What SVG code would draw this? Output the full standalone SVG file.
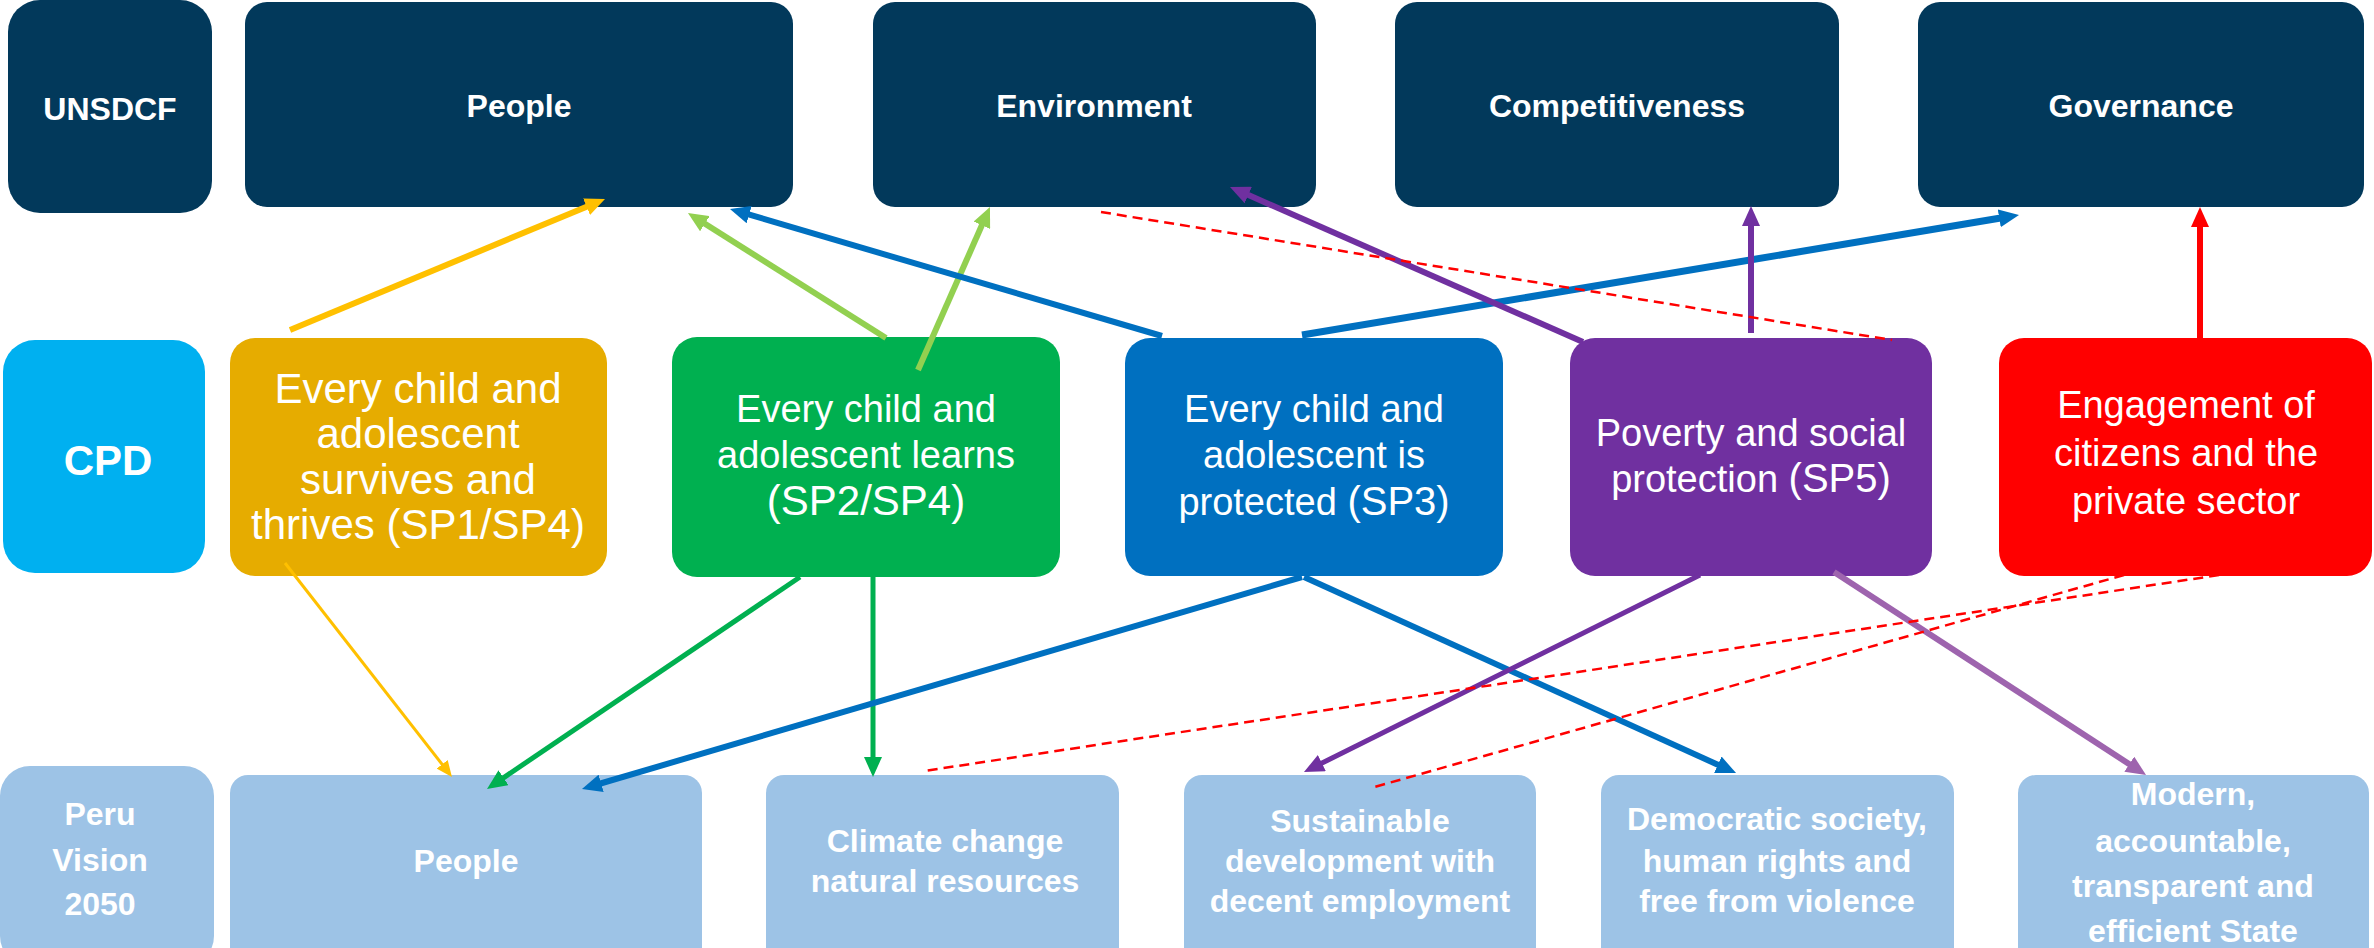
<svg xmlns="http://www.w3.org/2000/svg" width="2374" height="948" viewBox="0 0 2374 948">
<style>
.t{font-family:"Liberation Sans",Arial,sans-serif;fill:#fff;text-anchor:middle}
.b{font-weight:bold;font-size:32px}
.r{font-size:38px}
.y{font-size:42px}
.navy{fill:#02395B}
.bot{fill:#9DC3E6}
.c{fill:none}
.dash{fill:none;stroke:#FF0000;stroke-width:2.5;stroke-dasharray:10 6}
</style>
<defs>
<marker id="mY" markerUnits="userSpaceOnUse" markerWidth="20" markerHeight="18" refX="6" refY="9" orient="auto"><path d="M0,0 L20,9 L0,18 z" fill="#FFC000"/></marker>
<marker id="mYs" markerUnits="userSpaceOnUse" markerWidth="16" markerHeight="14" refX="4" refY="7" orient="auto"><path d="M0,0 L16,7 L0,14 z" fill="#FFC000"/></marker>
<marker id="mLG" markerUnits="userSpaceOnUse" markerWidth="20" markerHeight="18" refX="6" refY="9" orient="auto"><path d="M0,0 L20,9 L0,18 z" fill="#92D050"/></marker>
<marker id="mB" markerUnits="userSpaceOnUse" markerWidth="20" markerHeight="18" refX="6" refY="9" orient="auto"><path d="M0,0 L20,9 L0,18 z" fill="#0070C0"/></marker>
<marker id="mP" markerUnits="userSpaceOnUse" markerWidth="20" markerHeight="18" refX="6" refY="9" orient="auto"><path d="M0,0 L20,9 L0,18 z" fill="#7030A0"/></marker>
<marker id="mR" markerUnits="userSpaceOnUse" markerWidth="20" markerHeight="18" refX="6" refY="9" orient="auto"><path d="M0,0 L20,9 L0,18 z" fill="#FF0000"/></marker>
<marker id="mG" markerUnits="userSpaceOnUse" markerWidth="20" markerHeight="18" refX="6" refY="9" orient="auto"><path d="M0,0 L20,9 L0,18 z" fill="#00B050"/></marker>
<marker id="mLP" markerUnits="userSpaceOnUse" markerWidth="20" markerHeight="18" refX="6" refY="9" orient="auto"><path d="M0,0 L20,9 L0,18 z" fill="#9E64AE"/></marker>
</defs>
<rect width="2374" height="948" fill="#fff"/>

<!-- Row 1: UNSDCF -->
<g id="unsdcf"><rect class="navy" x="8" y="0" width="204" height="213" rx="32"/><text class="t b" x="110" y="120">UNSDCF</text></g>
<g id="un-people"><rect class="navy" x="245" y="2" width="548" height="205" rx="22"/><text class="t b" x="519" y="117">People</text></g>
<g id="un-environment"><rect class="navy" x="873" y="2" width="443" height="205" rx="22"/><text class="t b" x="1094" y="117">Environment</text></g>
<g id="un-competitiveness"><rect class="navy" x="1395" y="2" width="444" height="205" rx="22"/><text class="t b" x="1617" y="117">Competitiveness</text></g>
<g id="un-governance"><rect class="navy" x="1918" y="2" width="446" height="205" rx="22"/><text class="t b" x="2141" y="117">Governance</text></g>

<!-- Row 2: CPD -->
<g id="cpd"><rect x="3" y="340" width="202" height="233" rx="32" fill="#00B0F0"/><text class="t" x="108" y="475" font-size="42" font-weight="bold">CPD</text></g>
<g id="sp1"><rect x="230" y="338" width="377" height="238" rx="25" fill="#E6AC00"/>
<text class="t y" x="418" y="403">Every child and</text>
<text class="t y" x="418" y="448">adolescent</text>
<text class="t y" x="418" y="494">survives and</text>
<text class="t y" x="418" y="539">thrives (SP1/SP4)</text></g>
<g id="sp2"><rect x="672" y="337" width="388" height="240" rx="25" fill="#00B050"/>
<text class="t r" x="866" y="422">Every child and</text>
<text class="t r" x="866" y="468">adolescent learns</text>
<text class="t y" x="866" y="515">(SP2/SP4)</text></g>
<g id="sp3"><rect x="1125" y="338" width="378" height="238" rx="25" fill="#0070C0"/>
<text class="t r" x="1314" y="422">Every child and</text>
<text class="t r" x="1314" y="468">adolescent is</text>
<text class="t r" x="1314" y="515">protected <tspan font-size="40">(SP3)</tspan></text></g>
<g id="sp5"><rect x="1570" y="338" width="362" height="238" rx="25" fill="#7030A0"/>
<text class="t r" x="1751" y="446">Poverty and social</text>
<text class="t r" x="1751" y="492">protection <tspan font-size="40">(SP5)</tspan></text></g>
<g id="engagement"><rect x="1999" y="338" width="373" height="238" rx="25" fill="#FF0000"/>
<text class="t r" x="2186" y="418">Engagement of</text>
<text class="t r" x="2186" y="466">citizens and the</text>
<text class="t r" x="2186" y="514">private sector</text></g>

<!-- Row 3: Peru Vision 2050 -->
<g id="peru"><rect class="bot" x="0" y="766" width="214" height="200" rx="30"/>
<text class="t b" x="100" y="825">Peru</text>
<text class="t b" x="100" y="871">Vision</text>
<text class="t b" x="100" y="915">2050</text></g>
<g id="pv-people"><rect class="bot" x="230" y="775" width="472" height="190" rx="18"/><text class="t b" x="466" y="872">People</text></g>
<g id="pv-climate"><rect class="bot" x="766" y="775" width="353" height="190" rx="18"/>
<text class="t b" x="945" y="852">Climate change</text>
<text class="t b" x="945" y="892">natural resources</text></g>
<g id="pv-sustainable"><rect class="bot" x="1184" y="775" width="352" height="190" rx="18"/>
<text class="t b" x="1360" y="832">Sustainable</text>
<text class="t b" x="1360" y="872">development with</text>
<text class="t b" x="1360" y="912">decent employment</text></g>
<g id="pv-democratic"><rect class="bot" x="1601" y="775" width="353" height="190" rx="18"/>
<text class="t b" x="1777" y="830">Democratic society,</text>
<text class="t b" x="1777" y="872">human rights and</text>
<text class="t b" x="1777" y="912">free from violence</text></g>
<g id="pv-modern"><rect class="bot" x="2018" y="775" width="351" height="190" rx="18"/>
<text class="t b" x="2193" y="805">Modern,</text>
<text class="t b" x="2193" y="852">accountable,</text>
<text class="t b" x="2193" y="897">transparent and</text>
<text class="t b" x="2193" y="942">efficient State</text></g>

<!-- Connectors -->
<g id="connectors" fill="none">
<line x1="290" y1="330" x2="592.1" y2="204.4" stroke="#FFC000" stroke-width="6" marker-end="url(#mY)"/>
<line x1="886" y1="338" x2="699.8" y2="220.5" stroke="#92D050" stroke-width="6" marker-end="url(#mLG)"/>
<line x1="918" y1="370" x2="984.3" y2="219.8" stroke="#92D050" stroke-width="6" marker-end="url(#mLG)"/>
<line x1="1162" y1="336" x2="743.4" y2="212.9" stroke="#0070C0" stroke-width="6" marker-end="url(#mB)"/>
<line x1="1302" y1="335" x2="2005.2" y2="217.3" stroke="#0070C0" stroke-width="7" marker-end="url(#mB)"/>
<line x1="1583" y1="342" x2="1242.8" y2="192.6" stroke="#7030A0" stroke-width="6" marker-end="url(#mP)"/>
<line x1="1751" y1="333" x2="1751" y2="220" stroke="#7030A0" stroke-width="6" marker-end="url(#mP)"/>
<line x1="2200" y1="338" x2="2200" y2="221" stroke="#FF0000" stroke-width="6" marker-end="url(#mR)"/>
<line class="dash" x1="1101" y1="212" x2="1892" y2="340"/>

<line x1="285" y1="563" x2="444.6" y2="767.5" stroke="#FFC000" stroke-width="3" marker-end="url(#mYs)"/>
<line x1="800" y1="577" x2="498.6" y2="781.1" stroke="#00B050" stroke-width="5" marker-end="url(#mG)"/>
<line x1="873" y1="577" x2="873" y2="763" stroke="#00B050" stroke-width="5" marker-end="url(#mG)"/>
<line x1="1302" y1="577" x2="595.4" y2="785" stroke="#0070C0" stroke-width="6" marker-end="url(#mB)"/>
<line x1="1304" y1="577" x2="1723.3" y2="767.2" stroke="#0070C0" stroke-width="6" marker-end="url(#mB)"/>
<line x1="1700" y1="575" x2="1316.5" y2="765.8" stroke="#7030A0" stroke-width="5" marker-end="url(#mP)"/>
<line x1="1834" y1="572" x2="2134.3" y2="767.4" stroke="#9E64AE" stroke-width="6" marker-end="url(#mLP)"/>
<line class="dash" x1="2219" y1="575" x2="924" y2="771"/>
<line class="dash" x1="2124" y1="575" x2="1371" y2="788"/>
</g>
</svg>
